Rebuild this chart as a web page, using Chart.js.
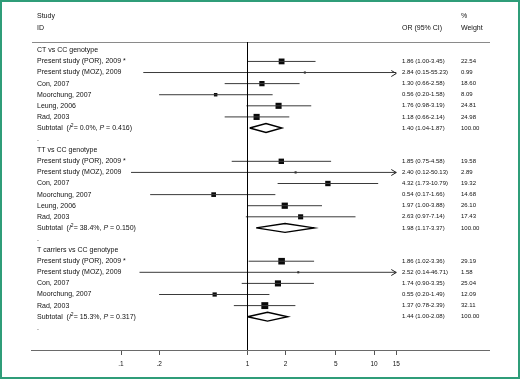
<!DOCTYPE html>
<html>
<head>
<meta charset="utf-8">
<title>Forest plot</title>
<script src="https://cdn.jsdelivr.net/npm/chart.js@4.4.0/dist/chart.umd.min.js"></script>
<style>
    html, body { margin: 0; padding: 0; background: #fff; }
    #wrap { position: relative; width: 520px; height: 379px; }
    #wrap canvas { position: absolute; left: 0; top: 0; }
    #frame {
        position: absolute; left: 0; top: 0; width: 520px; height: 379px;
        box-sizing: border-box; border: 2px solid #2f9d79; pointer-events: none;
    }
</style>
</head>
<body>
<div id="wrap">
    <canvas id="forestChart" width="520" height="379"></canvas>
    <div id="frame"></div>
</div>
<script>
// 数据
const groupNames = ['CT vs CC genotype', 'TT vs CC genotype', 'T carriers vs CC genotype'];

const ctStudies = ['Present study (POR), 2009 *', 'Present study (MOZ), 2009', 'Con, 2007', 'Moorchung, 2007', 'Leung, 2006', 'Rad, 2003'];
const ctOR     = [1.86, 2.84, 1.30, 0.56, 1.76, 1.18];
const ctLower  = [1.00, 0.15, 0.66, 0.20, 0.98, 0.66];
const ctUpper  = [3.45, 55.23, 2.58, 1.58, 3.19, 2.14];
const ctWeight = [22.54, 0.99, 18.60, 8.09, 24.81, 24.98];

const ttStudies = ['Present study (POR), 2009 *', 'Present study (MOZ), 2009', 'Con, 2007', 'Moorchung, 2007', 'Leung, 2006', 'Rad, 2003'];
const ttOR     = [1.85, 2.40, 4.32, 0.54, 1.97, 2.63];
const ttLower  = [0.75, 0.12, 1.73, 0.17, 1.00, 0.97];
const ttUpper  = [4.58, 50.13, 10.79, 1.66, 3.88, 7.14];
const ttWeight = [19.58, 2.89, 19.32, 14.68, 26.10, 17.43];

const tcStudies = ['Present study (POR), 2009 *', 'Present study (MOZ), 2009', 'Con, 2007', 'Moorchung, 2007', 'Rad, 2003'];
const tcOR     = [1.86, 2.52, 1.74, 0.55, 1.37];
const tcLower  = [1.02, 0.14, 0.90, 0.20, 0.78];
const tcUpper  = [3.36, 46.71, 3.35, 1.49, 2.39];
const tcWeight = [29.19, 1.58, 25.04, 12.09, 32.11];

const subtotalOR    = [1.40, 1.98, 1.44];
const subtotalLower = [1.04, 1.17, 1.00];
const subtotalUpper = [1.87, 3.37, 2.08];
const subtotalI2    = ['0.0', '38.4', '15.3'];
const subtotalP     = ['0.416', '0.150', '0.317'];

const tickValues = [0.1, 0.2, 1, 2, 5, 10, 15];
const tickLabels = ['.1', '.2', '1', '2', '5', '10', '15'];

// 坐标轴范围
const xMin = 0.01943;
const xMax = 81.1;
const clipMax = 15;

const FONT = '"Liberation Sans", Arial, sans-serif';
const TEXT_COLOR = '#111';

// 按行组织
const rows = [];
function addGroup(g, studies, or, lo, hi, w) {
    rows.push({ type: 'group', label: groupNames[g] });
    studies.forEach((s, i) => {
        rows.push({ type: 'study', label: s, or: or[i], lo: lo[i], hi: hi[i], w: w[i] });
    });
    rows.push({ type: 'subtotal', g: g, or: subtotalOR[g], lo: subtotalLower[g], hi: subtotalUpper[g], w: 100 });
    rows.push({ type: 'dot' });
}
addGroup(0, ctStudies, ctOR, ctLower, ctUpper, ctWeight);
addGroup(1, ttStudies, ttOR, ttLower, ttUpper, ttWeight);
addGroup(2, tcStudies, tcOR, tcLower, tcUpper, tcWeight);

// 数据集
const ciData = [];
const boxData = [];
const boxRadius = [];
const diamondData = [];
const gap = { x: NaN, y: NaN };

rows.forEach((r, y) => {
    if (r.type === 'study') {
        ciData.push({ x: Math.max(r.lo, xMin), y: y }, { x: Math.min(r.hi, clipMax), y: y }, gap);
        boxData.push({ x: r.or, y: y });
        const side = Math.max(2, 1.22 * Math.sqrt(r.w));
        boxRadius.push(side / Math.SQRT2);
    } else if (r.type === 'subtotal') {
        diamondData.push(
            { x: r.lo, y: y }, { x: r.or, y: y - 0.4 }, { x: r.hi, y: y },
            { x: r.or, y: y + 0.4 }, { x: r.lo, y: y }, gap
        );
    }
});

const yMin = -0.75;
const yMax = 27;

function fmt(v) { return v.toFixed(2); }

// 文本和箭头插件
const forestDecor = {
    id: 'forestDecor',
    beforeDatasetsDraw(chart) {
        const { ctx, chartArea } = chart;
        ctx.save();
        ctx.strokeStyle = '#8a8a8a';
        ctx.lineWidth = 1;
        ctx.beginPath();
        ctx.moveTo(chartArea.left + 1, chartArea.top + 0.5);
        ctx.lineTo(chartArea.right + 1, chartArea.top + 0.5);
        ctx.stroke();
        ctx.restore();
    },
    afterDatasetsDraw(chart) {
        const { ctx } = chart;
        const xs = chart.scales.x, ys = chart.scales.y;
        ctx.save();
        ctx.strokeStyle = '#222';
        ctx.lineWidth = 1;
        rows.forEach((r, y) => {
            if (r.type === 'study' && r.hi > clipMax) {
                const px = xs.getPixelForValue(clipMax);
                const py = Math.round(ys.getPixelForValue(y)) + 0.5;
                ctx.beginPath();
                ctx.moveTo(px - 5, py - 3);
                ctx.lineTo(px, py);
                ctx.lineTo(px - 5, py + 3);
                ctx.stroke();
            }
        });
        ctx.restore();
    },
    afterDraw(chart) {
        const { ctx, chartArea } = chart;
        const ys = chart.scales.y;
        const labelX = 37, orX = 402, wX = 461;
        ctx.save();
        ctx.fillStyle = TEXT_COLOR;
        ctx.textBaseline = 'middle';
        ctx.textAlign = 'left';

        // 表头
        ctx.font = '7px ' + FONT;
        ctx.fillText('Study', labelX, chartArea.top - 26);
        ctx.fillText('ID', labelX, chartArea.top - 14);
        ctx.fillText('%', wX, chartArea.top - 26);
        ctx.fillText('OR (95% CI)', orX, chartArea.top - 14);
        ctx.fillText('Weight', wX, chartArea.top - 14);

        rows.forEach((r, y) => {
            const py = ys.getPixelForValue(y);
            ctx.font = '7px ' + FONT;
            if (r.type === 'group' || r.type === 'study') {
                ctx.fillText(r.label, labelX, py);
            } else if (r.type === 'dot') {
                ctx.fillText('.', labelX, py);
            } else if (r.type === 'subtotal') {
                let x = labelX;
                const parts = [
                    ['Subtotal  (', '', 0],
                    ['I', 'italic ', 0],
                    ['2', '', -2.5, 5],
                    ['= ' + subtotalI2[r.g] + '%, ', '', 0],
                    ['P', 'italic ', 0],
                    [' = ' + subtotalP[r.g] + ')', '', 0]
                ];
                parts.forEach(p => {
                    ctx.font = p[1] + (p[3] || 7) + 'px ' + FONT;
                    ctx.fillText(p[0], x, py + p[2]);
                    x += ctx.measureText(p[0]).width;
                });
            }
            if (r.type === 'study' || r.type === 'subtotal') {
                ctx.font = '6px ' + FONT;
                ctx.fillText(fmt(r.or) + ' (' + fmt(r.lo) + '-' + fmt(r.hi) + ')', orX, py);
                ctx.fillText(fmt(r.w), wX, py);
            }
        });
        ctx.restore();
    }
};

const forestChart = new Chart(document.getElementById('forestChart'), {
    type: 'scatter',
    data: {
        datasets: [
            {
                label: 'null',
                data: [{ x: 1, y: yMin }, { x: 1, y: yMax }],
                showLine: true,
                borderColor: '#000',
                borderWidth: 1,
                pointRadius: 0
            },
            {
                label: 'CI',
                data: ciData,
                showLine: true,
                spanGaps: false,
                borderColor: '#3a3a3a',
                borderWidth: 1,
                pointRadius: 0
            },
            {
                label: 'box',
                data: boxData,
                pointStyle: 'rect',
                pointRadius: boxRadius,
                backgroundColor: '#0a0a0a',
                borderWidth: 0
            },
            {
                label: 'subtotal',
                data: diamondData,
                showLine: true,
                spanGaps: false,
                borderColor: '#000',
                borderWidth: 1.4,
                pointRadius: 0,
                fill: false
            }
        ]
    },
    options: {
        responsive: false,
        animation: false,
        devicePixelRatio: 1,
        layout: { padding: { left: 31, right: 31, top: 42, bottom: 0 } },
        scales: {
            x: {
                type: 'logarithmic',
                min: xMin,
                max: xMax,
                afterBuildTicks: s => { s.ticks = tickValues.map(v => ({ value: v })); },
                afterFit: s => { s.height = 29; },
                ticks: {
                    callback: (v, i) => tickLabels[i],
                    autoSkip: false,
                    maxRotation: 0,
                    padding: 5,
                    color: TEXT_COLOR,
                    font: { family: FONT, size: 6.5 }
                },
                grid: { drawOnChartArea: false, drawTicks: true, tickLength: 5, color: '#555' },
                border: { color: '#6a6a6a', width: 1 }
            },
            y: {
                type: 'linear',
                reverse: true,
                min: yMin,
                max: yMax,
                display: false
            }
        },
        plugins: {
            legend: { display: false },
            tooltip: { enabled: false }
        }
    },
    plugins: [forestDecor]
});
</script>
</body>
</html>
